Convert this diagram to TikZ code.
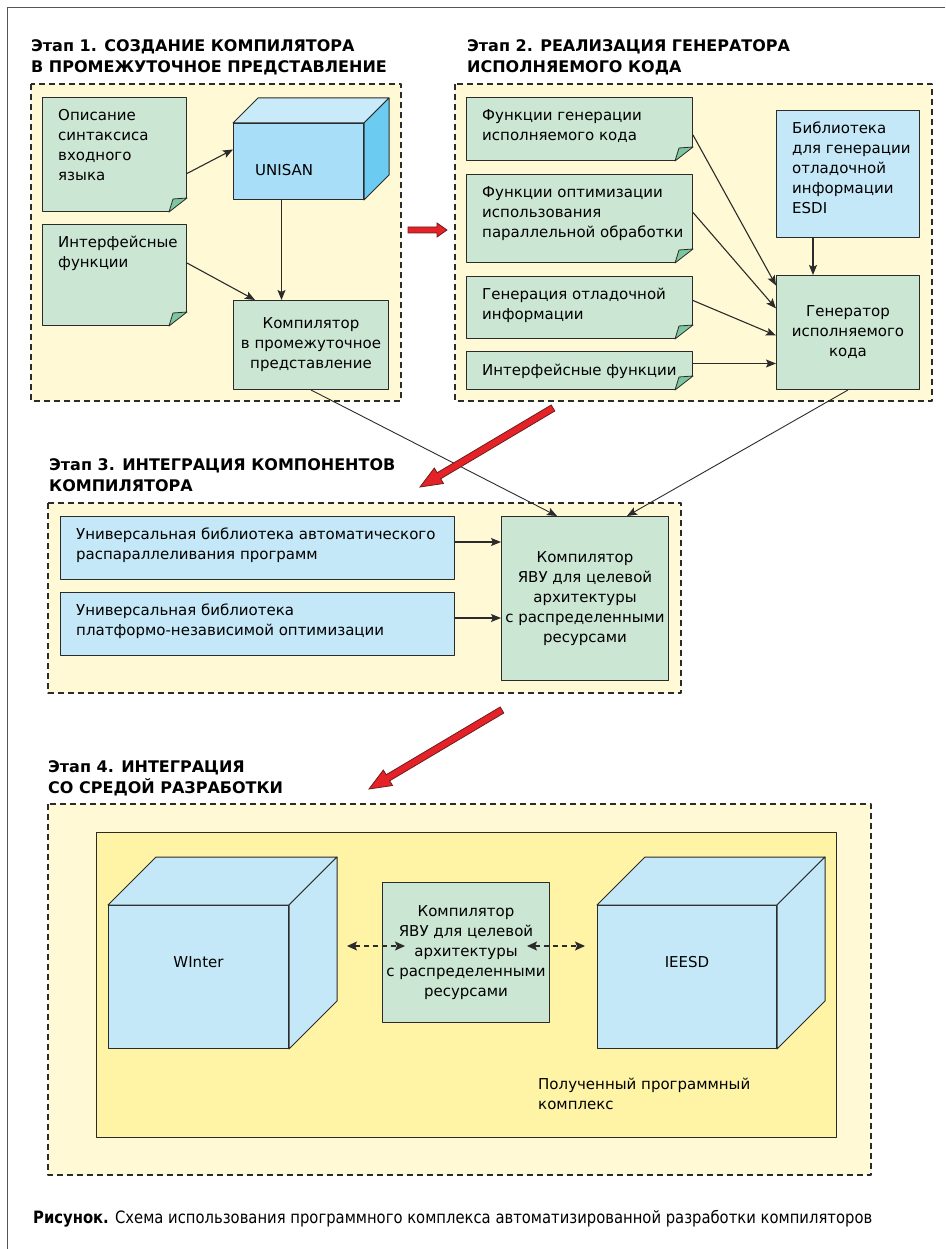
\documentclass[tikz,border=0pt]{standalone}
\usepackage{fontspec}
\setmainfont{DejaVu Sans}
\newfontfamily\capfont[FakeStretch=0.87]{DejaVu Sans}
\usetikzlibrary{arrows.meta,calc,positioning}
\definecolor{cream}{HTML}{FFF9D6}
\definecolor{lemon}{HTML}{FFF4A6}
\definecolor{notegreen}{HTML}{CCE6D4}
\definecolor{foldgreen}{HTML}{7CC79F}
\definecolor{paleblue}{HTML}{C5E8F8}
\definecolor{cubefront}{HTML}{A8DEF7}
\definecolor{cubetop}{HTML}{C9EBF9}
\definecolor{cubeside}{HTML}{6CCBF1}
\definecolor{arrowred}{HTML}{E52228}
\definecolor{ink}{HTML}{2B2B2B}
% block arrow: from, to, half shaft, half head, head length
\newcommand{\bigarrow}[5]{%
  \coordinate (hb) at ($(#2)!#5!(#1)$);
  \filldraw[fill=arrowred,draw=ink!70!red,line width=0.8pt,line join=miter]
  ($(#1)!#3!90:(#2)$) -- ($(hb)!#3!90:(#2)$) -- ($(hb)!#4!90:(#2)$) -- (#2)
  -- ($(hb)!#4!-90:(#2)$) -- ($(hb)!#3!-90:(#2)$) -- ($(#1)!#3!-90:(#2)$) -- cycle;
}
\begin{document}
\begin{tikzpicture}[x=1pt,y=-1pt,line join=round,
  font=\fontsize{15}{20}\selectfont,
  stage/.style={draw=ink,line width=1.5pt,dash pattern=on 6pt off 4pt,fill=cream},
  title/.style={anchor=base west,align=left,inner sep=0,font=\bfseries\fontsize{16}{21}\selectfont},
  box/.style={draw=ink,line width=1pt,anchor=north west,inner sep=0,align=center},
  note/.style={box,fill=notegreen},
  libbox/.style={box,fill=paleblue},
  lbl/.style={anchor=north west,align=left,inner sep=0,xshift=16,yshift=-12,execute at begin node={\rule{0pt}{12pt}}},
  arr/.style={draw=ink,line width=1.1pt,-{Stealth[length=10pt,width=8pt,inset=2pt]}},
  link/.style={arr,line width=0.9pt},
  twoway/.style={draw=ink,line width=1.2pt,dash pattern=on 5pt off 4pt,{Stealth[length=10pt,width=9pt,inset=2pt]}-{Stealth[length=10pt,width=9pt,inset=2pt]}}]
\useasboundingbox (0,0) rectangle (945,1249);
\draw[line width=0.8pt,draw=ink!80] (7,1249) -- (7,7) -- (945,7);

% stage 1
\draw[stage] (31,84) rectangle (401,401);
\node[title] (t1) at (31,73) {Этап 1. СОЗДАНИЕ КОМПИЛЯТОРА\\В ПРОМЕЖУТОЧНОЕ ПРЕДСТАВЛЕНИЕ};
\node[note,minimum width=144,minimum height=114,label={[lbl]north west:Описание\\синтаксиса\\входного\\языка}] (a1) at (42,97) {};
\node[note,minimum width=144,minimum height=101,label={[lbl]north west:Интерфейсные\\функции}] (a2) at (42,224) {};
\node[box,fill=cubefront,minimum width=130,minimum height=76,label={[anchor=base west,inner sep=0,xshift=22,yshift=-14]west:UNISAN}] (unisan) at (233,123) {};
\node[note,minimum width=155,minimum height=89] (c1) at (233,300) {Компилятор\\в промежуточное\\представление};

% stage 2
\draw[stage] (455,84) rectangle (932,401);
\node[title] (t2) at (467,73) {Этап 2. РЕАЛИЗАЦИЯ ГЕНЕРАТОРА\\ИСПОЛНЯЕМОГО КОДА};
\node[note,minimum width=226,minimum height=63,label={[lbl]north west:Функции генерации\\исполняемого кода}] (b1) at (466,97) {};
\node[note,minimum width=226,minimum height=88,label={[lbl]north west:Функции оптимизации\\использования\\параллельной обработки}] (b2) at (466,174) {};
\node[note,minimum width=226,minimum height=62,label={[lbl]north west:Генерация отладочной\\информации}] (b3) at (466,276) {};
\node[note,minimum width=226,minimum height=38,label={[lbl]north west:Интерфейсные функции}] (b4) at (466,351) {};
\node[libbox,minimum width=143,minimum height=127,label={[lbl]north west:Библиотека\\для генерации\\отладочной\\информации\\ESDI}] (esdi) at (776,110) {};
\node[note,minimum width=143,minimum height=114] (gen) at (776,275) {Генератор\\исполняемого\\кода};

% stage 3
\draw[stage] (48,503) rectangle (681,693);
\node[title] (t3) at (49,491) {Этап 3. ИНТЕГРАЦИЯ КОМПОНЕНТОВ\\КОМПИЛЯТОРА};
\node[libbox,minimum width=394,minimum height=63,label={[lbl]north west:Универсальная библиотека автоматического\\распараллеливания программ}] (u1) at (60,516) {};
\node[libbox,minimum width=394,minimum height=63,label={[lbl]north west:Универсальная библиотека\\платформо-независимой оптимизации}] (u2) at (60,592) {};
\node[note,minimum width=167,minimum height=164] (k3) at (501,516) {Компилятор\\ЯВУ для целевой\\архитектуры\\с распределенными\\ресурсами};

% stage 4
\draw[stage] (48,804) rectangle (871,1175);
\node[title] (t4) at (48,793) {Этап 4. ИНТЕГРАЦИЯ\\СО СРЕДОЙ РАЗРАБОТКИ};
\draw[draw=ink,line width=1pt,fill=lemon] (96,832) rectangle (836,1137);
\node[libbox,minimum width=180,minimum height=143,label={[anchor=center,inner sep=0,yshift=-57]north:WInter}] (wint) at (108,905) {};
\node[libbox,minimum width=179,minimum height=143,label={[anchor=center,inner sep=0,yshift=-57]north:IEESD}] (ieesd) at (597,905) {};
\node[note,minimum width=167,minimum height=140] (k4) at (382,882) {Компилятор\\ЯВУ для целевой\\архитектуры\\с распределенными\\ресурсами};
\node[anchor=base west,align=left,inner sep=0] (res) at (538,1109) {Полученный программный\\комплекс};

% folded corners
\foreach \n in {a1,a2,b1,b2,b3,b4}{
  \fill[cream] ([xshift=-18]\n.south east) -- ([shift={(1.5,1.5)}]\n.south east) -- ([yshift=14]\n.south east) -- cycle;
  \filldraw[fill=foldgreen,draw=ink,line width=0.8pt] ([xshift=-18]\n.south east) -- ([shift={(-14,-13)}]\n.south east) -- ([yshift=14]\n.south east) -- cycle;
}
% cube faces
\foreach \c/\d/\tc/\sc in {unisan/25/cubetop/cubeside,wint/48/paleblue/paleblue,ieesd/48/paleblue/paleblue}{
  \filldraw[fill=\tc,draw=ink,line width=1pt] (\c.north west) -- ++(\d,-\d) -- ([shift={(\d,-\d)}]\c.north east) -- (\c.north east) -- cycle;
  \filldraw[fill=\sc,draw=ink,line width=1pt] (\c.north east) -- ++(\d,-\d) -- ([shift={(\d,-\d)}]\c.south east) -- (\c.south east) -- cycle;
}

% connectors
\draw[arr] ([yshift=-19]a1.east) -- ([yshift=12]unisan.west);
\draw[arr] ([yshift=12]a2.east) -- ([xshift=22]c1.north west);
\draw[arr] ([xshift=-17]unisan.south) -- ([xshift=-17]unisan.south |- c1.north);
\draw[arr] ([yshift=-6]b1.east) -- ([yshift=47]gen.west);
\draw[arr] ([yshift=6]b2.east) -- ([yshift=24]gen.west);
\draw[arr] ([yshift=7]b3.east) -- ([yshift=-3]gen.west);
\draw[arr] ([yshift=7]b4.east) -- ([yshift=-31]gen.west);
\draw[arr] ([xshift=-35]esdi.south) -- ([xshift=-35]esdi.south |- gen.north);
\draw[arr] ([yshift=6]u1.east) -- ([yshift=6]u1.east -| k3.west);
\draw[arr] ([yshift=6]u2.east) -- ([yshift=6]u2.east -| k3.west);
\draw[link] (c1.south) -- ([xshift=-28]k3.north);
\draw[link] (gen.south) -- ([xshift=42]k3.north);
\coordinate (w1) at (347,946);
\coordinate (w2) at (405,946);
\coordinate (e1) at (527,946);
\coordinate (e2) at (585,946);
\draw[twoway] (w1) -- (w2);
\draw[twoway] (e1) -- (e2);

% stage arrows
\coordinate (r1a) at (408,230);
\coordinate (r1b) at (447,230);
\coordinate (r2a) at (553,408);
\coordinate (r2b) at (420,487);
\coordinate (r3a) at (502,710);
\coordinate (r3b) at (369,789);
\bigarrow{r1a}{r1b}{3pt}{7pt}{10pt}
\bigarrow{r2a}{r2b}{3.5pt}{9pt}{22pt}
\bigarrow{r3a}{r3b}{3.5pt}{9pt}{22pt}

\node[anchor=base west,inner sep=0,font=\capfont\fontsize{17}{20}\selectfont] (cap) at (33,1223) {\textbf{Рисунок.} Схема использования программного комплекса автоматизированной разработки компиляторов};
\end{tikzpicture}
\end{document}
